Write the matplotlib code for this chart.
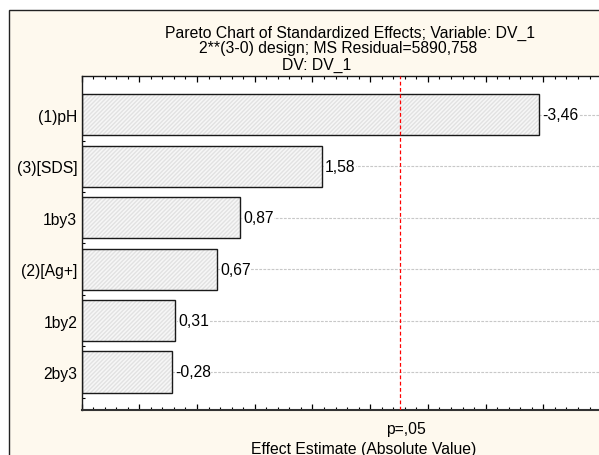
import matplotlib
matplotlib.use("Agg")
import matplotlib.pyplot as plt
from matplotlib.patches import Rectangle
from matplotlib.ticker import MultipleLocator, FixedLocator

plt.rcParams['font.family'] = ['Liberation Sans', 'DejaVu Sans']

# ---- data ----
factors = ["(1)pH", "(3)[SDS]", "1by3", "(2)[Ag+]", "1by2", "2by3"]
effects = [-3.46, 1.58, 0.87, 0.67, 0.31, -0.28]
p_crit = 2.262
title_lines = ["Pareto Chart of Standardized Effects; Variable: DV_1",
               "2**(3-0) design; MS Residual=5890,758",
               "DV: DV_1"]
xlabel = "Effect Estimate (Absolute Value)"
p_label = "p=,05"

W, H = 599, 456
FS = 11.3
fig = plt.figure(figsize=(W / 100, H / 100), dpi=100, facecolor='white')

def fx(px):
    return px / W

def fy(py):
    return 1 - py / H

# cream background panel with border (cropped at right/bottom)
frame = Rectangle((fx(9.3), -0.1), 1.2, fy(11) + 0.1, transform=fig.transFigure,
                  facecolor='#fef9ee', edgecolor='#222222', linewidth=1.0,
                  zorder=-5)
fig.patches.append(frame)

ax_left, ax_right = 81.5, 601.1
ax_top, ax_bot = 77.3, 410.7
ax = fig.add_axes([fx(ax_left), fy(ax_bot), fx(ax_right - ax_left), (ax_bot - ax_top) / H])
ax.set_facecolor('white')

x_min, x_max = -0.5, 4.0
pos = list(range(len(factors)))
mags = [abs(v) for v in effects]

ax.set_xlim(x_min, x_max)
ax.set_ylim(5.733, -0.748)

# grid
ax.set_axisbelow(True)
ax.yaxis.grid(True, which='major', linestyle=(0, (2.5, 1.2)), color='#c8c8c8', linewidth=0.8)

# bars drawn from the axis minimum: hatched fill layer + outline layer
widths = [m - x_min for m in mags]
ax.barh(pos, widths, left=x_min, height=0.8, color='#f7f7f7', edgecolor='#e2e2e2',
        linewidth=0, hatch='////////', zorder=2)
ax.barh(pos, widths, left=x_min, height=0.8, fill=False, edgecolor='#1a1a1a',
        linewidth=1.0, zorder=3)

# critical value line
ax.axvline(p_crit, color='red', linestyle=(0, (3, 2)), linewidth=0.9, zorder=4)

# value labels
for p, v, m in zip(pos, effects, mags):
    ax.text(m + 0.03, p, f"{v:.2f}".replace('.', ','), ha='left', va='center',
            fontsize=FS, zorder=5,
            bbox=dict(facecolor='white', edgecolor='none', pad=0.3))

# ticks
ax.set_yticks(pos)
ax.set_yticklabels(factors, fontsize=FS)
ax.yaxis.set_minor_locator(FixedLocator([p + 0.5 for p in pos]))
ax.tick_params(axis='y', which='major', direction='in', length=4, width=0.9, pad=3,
               colors='#1a1a1a', labelcolor='black')
ax.tick_params(axis='y', which='minor', direction='in', length=2.5, width=0.8)

ax.xaxis.set_major_locator(MultipleLocator(0.5))
ax.xaxis.set_minor_locator(MultipleLocator(0.1))
ax.tick_params(axis='x', which='both', direction='in', top=True, bottom=True,
               labelbottom=False, labeltop=False)
ax.tick_params(axis='x', which='major', length=4, width=0.9)
ax.tick_params(axis='x', which='minor', length=2.5, width=0.8)

for s in ['left', 'top']:
    ax.spines[s].set_linewidth(1.0)
    ax.spines[s].set_color('#1a1a1a')
ax.spines['bottom'].set_linewidth(1.5)
ax.spines['bottom'].set_color('#333333')

# titles
title_centers = [(350, 33), (338, 49), (317, 65.5)]
for (cx, cy), t in zip(title_centers, title_lines):
    fig.text(fx(cx), fy(cy), t, ha='center', va='center', fontsize=FS)

fig.text(fx(406), fy(430), p_label, ha='center', va='center', fontsize=FS)
fig.text(fx(364), fy(450), xlabel, ha='center', va='center', fontsize=FS)

fig.savefig("out.png", dpi=100, facecolor='white')
